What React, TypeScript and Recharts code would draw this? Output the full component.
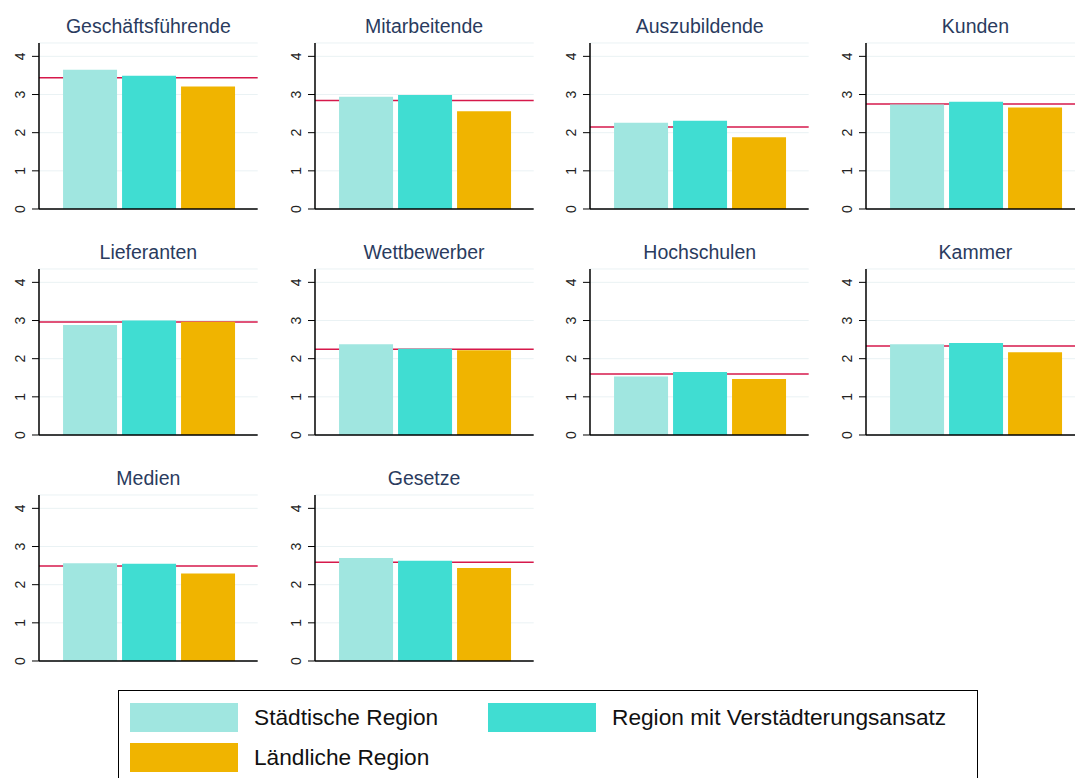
import { Bar, BarChart, CartesianGrid, ReferenceLine, XAxis, YAxis } from 'recharts'

const categories = [
  'Geschäftsführende',
  'Mitarbeitende',
  'Auszubildende',
  'Kunden',
  'Lieferanten',
  'Wettbewerber',
  'Hochschulen',
  'Kammer',
  'Medien',
  'Gesetze',
]
const staedtisch = [3.65, 2.94, 2.26, 2.74, 2.88, 2.38, 1.53, 2.38, 2.56, 2.7]
const verstaedterung = [3.49, 2.99, 2.31, 2.81, 3.0, 2.26, 1.65, 2.41, 2.55, 2.63]
const laendlich = [3.21, 2.56, 1.88, 2.66, 2.97, 2.22, 1.47, 2.17, 2.29, 2.44]
const gesamt = [3.44, 2.84, 2.15, 2.75, 2.96, 2.25, 1.6, 2.33, 2.49, 2.59]
const yTicks = [0, 1, 2, 3, 4]

const seriesNames = ['Städtische Region', 'Region mit Verstädterungsansatz', 'Ländliche Region']
const colors = ['#A0E6E0', '#40DDD2', '#F0B400']

const FONT = '"Liberation Sans", Arial, sans-serif'
const COL_STEP = 275.7
const ROW_STEP = 226
const AXIS_W = 39
const PLOT_W = 218.7

// tick labels read bottom-to-top, like the original
function RotatedTick(props: any) {
  const { x, y, payload } = props
  const cx = x - 9.5
  return (
    <text
      x={cx}
      y={y}
      transform={`rotate(-90 ${cx} ${y})`}
      textAnchor="middle"
      dominantBaseline="central"
      fontSize={14}
      fontFamily={FONT}
      fill="#222"
    >
      {payload.value}
    </text>
  )
}

function Panel({ index }: { index: number }) {
  const col = index % 4
  const row = Math.floor(index / 4)
  const left = col * COL_STEP
  const top = row * ROW_STEP
  const data = [
    {
      name: categories[index],
      s: staedtisch[index],
      v: verstaedterung[index],
      l: laendlich[index],
    },
  ]
  return (
    <>
      <div
        style={{
          position: 'absolute',
          left: left + AXIS_W,
          width: PLOT_W,
          top: top + 15,
          lineHeight: '22px',
          fontSize: 19.5,
          fontFamily: FONT,
          color: '#2A3B5E',
          textAlign: 'center',
          whiteSpace: 'nowrap',
        }}
      >
        {categories[index]}
      </div>
      <div style={{ position: 'absolute', left, top }}>
        <BarChart
          width={AXIS_W + PLOT_W + 4}
          height={220}
          data={data}
          margin={{ top: 43, right: 4, bottom: 10, left: 0 }}
          barCategoryGap="11%"
          barGap={5}
        >
          <CartesianGrid vertical={false} stroke="#EAF2F4" strokeWidth={1} />
          <XAxis dataKey="name" tick={false} tickLine={false} height={1} axisLine={{ stroke: '#000', strokeWidth: 1.5 }} />
          <YAxis
            width={AXIS_W}
            domain={[0, 4.35]}
            ticks={yTicks}
            allowDataOverflow
            tickSize={7}
            tick={<RotatedTick />}
            tickLine={{ stroke: '#000' }}
            axisLine={{ stroke: '#000', strokeWidth: 1.5 }}
          />
          <ReferenceLine y={gesamt[index]} stroke="#D6194B" strokeWidth={1.5} zIndex={250} />
          <Bar dataKey="s" name={seriesNames[0]} fill={colors[0]} isAnimationActive={false} />
          <Bar dataKey="v" name={seriesNames[1]} fill={colors[1]} isAnimationActive={false} />
          <Bar dataKey="l" name={seriesNames[2]} fill={colors[2]} isAnimationActive={false} />
        </BarChart>
      </div>
    </>
  )
}

function LegendItem({ x, y, i }: { x: number; y: number; i: number }) {
  return (
    <>
      <div style={{ position: 'absolute', left: x, top: y, width: 108, height: 29, background: colors[i] }} />
      <div
        style={{
          position: 'absolute',
          left: x + 124,
          top: y + 1,
          lineHeight: '26px',
          fontSize: 22.7,
          fontFamily: FONT,
          color: '#111',
          whiteSpace: 'nowrap',
        }}
      >
        {seriesNames[i]}
      </div>
    </>
  )
}

export default function App() {
  return (
    <div
      style={{
        position: 'absolute',
        left: 0,
        top: 0,
        width: 1075,
        height: 778,
        overflow: 'hidden',
        background: '#fff',
      }}
    >
      {categories.map((_, i) => (
        <Panel key={i} index={i} />
      ))}
      <div
        style={{
          position: 'absolute',
          left: 118,
          top: 690,
          width: 860,
          height: 120,
          border: '1px solid #000',
          boxSizing: 'border-box',
        }}
      />
      <LegendItem x={130} y={703} i={0} />
      <LegendItem x={488} y={703} i={1} />
      <LegendItem x={130} y={743} i={2} />
    </div>
  )
}
